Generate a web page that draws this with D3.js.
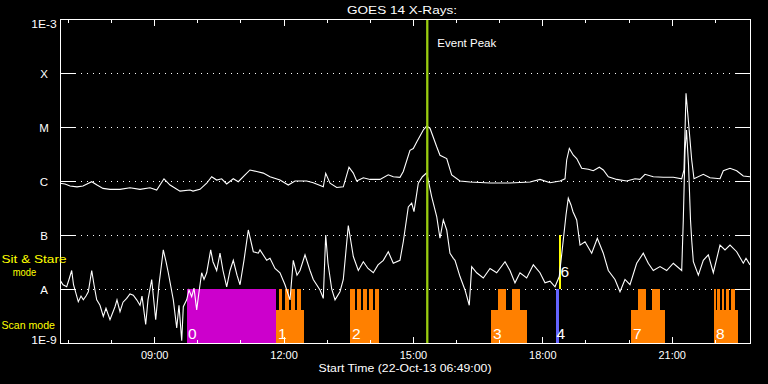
<!DOCTYPE html>
<html>
<head>
<meta charset="utf-8">
<title>GOES 14 X-Rays</title>
<script src="https://d3js.org/d3.v7.min.js"></script>
<style>
body { margin: 0; background: #000; }
svg { display: block; background: #000; }
text { font-family: "Liberation Sans", Arial, sans-serif; font-size: 11.5px; fill: #fff; }
</style>
</head>
<body>
<svg></svg>
<script>

    // Time axis: hours of day, plot starts 22-Oct-13 06:49
    var startHour = 6 + 49 / 60;
    var endHour = 22 + 49 / 60;
    var peakHour = 15 + 20 / 60;

    var levelValues = [1e-9, 1e-8, 1e-7, 1e-6, 1e-5, 1e-4, 1e-3];
    var levelLabels = ["1E-9", "A", "B", "C", "M", "X", "1E-3"];
    var gridLevels = [1e-8, 1e-7, 1e-6, 1e-5, 1e-4];
    var majorHours = [9, 12, 15, 18, 21];
    var minorHours = [7, 8, 10, 11, 13, 14, 16, 17, 19, 20, 22];

    // GOES long channel (1-8 A)
    var longTime = [6.817, 6.933, 7.049, 7.211, 7.350, 7.552, 7.675, 7.814, 7.976, 8.208,
        8.440, 8.672, 8.904, 9.059, 9.228, 9.368, 9.599, 9.831, 9.901, 10.063,
        10.218, 10.334, 10.450, 10.566, 10.682, 10.835, 10.951, 11.107, 11.222, 11.378,
        11.531, 11.686, 11.918, 12.110, 12.266, 12.537, 12.690, 12.922, 12.978, 13.078,
        13.233, 13.386, 13.518, 13.618, 13.697, 13.850, 14.005, 14.237, 14.429, 14.545,
        14.700, 14.777, 14.932, 15.009, 15.088, 15.241, 15.320, 15.396, 15.552, 15.628,
        15.784, 15.899, 16.092, 16.324, 16.788, 17.251, 17.715, 17.947, 18.179, 18.411,
        18.527, 18.566, 18.627, 18.720, 18.798, 18.914, 19.067, 19.183, 19.322, 19.415,
        19.531, 19.726, 19.957, 20.150, 20.266, 20.382, 20.574, 20.806, 21.038, 21.233,
        21.286, 21.333, 21.386, 21.465, 21.518, 21.734, 21.889, 22.121, 22.198, 22.353,
        22.508, 22.661, 22.817];
    var longFlux = [9.1e-7, 8.8e-7, 8.1e-7, 7.8e-7, 8.1e-7, 9.7e-7, 8.4e-7, 7.3e-7, 7.0e-7, 7.0e-7,
        7.5e-7, 7.0e-7, 7.5e-7, 6.8e-7, 1.1e-6, 8.4e-7, 6.5e-7, 6.8e-7, 6.5e-7, 7.0e-7,
        9.1e-7, 1.2e-6, 1.04e-6, 1.1e-6, 8.8e-7, 1.1e-6, 9.7e-7, 1.3e-6, 1.6e-6, 1.5e-6,
        1.4e-6, 1.2e-6, 1.04e-6, 8.4e-7, 1.0e-6, 1.0e-6, 9.3e-7, 7.8e-7, 1.39e-6, 9.1e-7,
        7.6e-7, 7.8e-7, 1.8e-6, 1.4e-6, 1.0e-6, 1.15e-6, 1.07e-6, 1.07e-6, 1.3e-6, 1.2e-6,
        1.17e-6, 1.5e-6, 3.7e-6, 4.0e-6, 5.3e-6, 8.8e-6, 1.04e-5, 9.5e-6, 4.3e-6, 3.0e-6,
        2.6e-6, 1.3e-6, 1.0e-6, 9.6e-7, 9.2e-7, 9.2e-7, 9.6e-7, 1.07e-6, 9.3e-7, 1.0e-6,
        1.1e-6, 2.45e-6, 4.0e-6, 3.0e-6, 2.6e-6, 1.72e-6, 1.65e-6, 1.55e-6, 1.8e-6, 1.6e-6,
        1.2e-6, 1.07e-6, 1.0e-6, 1.1e-6, 1.07e-6, 1.33e-6, 1.2e-6, 1.17e-6, 1.17e-6, 1.1e-6,
        1.6e-6, 4.2e-5, 1.35e-5, 2.45e-6, 1.1e-6, 1.33e-6, 1.15e-6, 1.1e-6, 1.55e-6, 1.72e-6,
        1.55e-6, 1.24e-6, 1.2e-6];

    // GOES short channel (0.5-4 A)
    var shortTime = [6.833, 6.886, 6.972, 7.025, 7.088, 7.130, 7.164, 7.241, 7.304, 7.357,
        7.420, 7.473, 7.552, 7.605, 7.668, 7.744, 7.821, 7.883, 7.976, 8.092,
        8.138, 8.208, 8.278, 8.363, 8.440, 8.516, 8.595, 8.672, 8.718, 8.804,
        8.857, 8.943, 9.036, 9.112, 9.212, 9.275, 9.328, 9.444, 9.523, 9.576,
        9.639, 9.676, 9.754, 9.808, 9.870, 9.924, 9.986, 10.040, 10.102, 10.156,
        10.218, 10.311, 10.364, 10.450, 10.527, 10.596, 10.682, 10.759, 10.835, 10.921,
        10.991, 11.083, 11.183, 11.299, 11.415, 11.454, 11.610, 11.686, 11.802, 11.918,
        12.034, 12.150, 12.226, 12.312, 12.382, 12.498, 12.614, 12.690, 12.846, 12.922,
        12.978, 13.031, 13.117, 13.194, 13.309, 13.386, 13.502, 13.618, 13.734, 13.850,
        13.959, 14.082, 14.191, 14.314, 14.429, 14.545, 14.700, 14.777, 14.893, 14.972,
        15.025, 15.125, 15.220, 15.320, 15.436, 15.552, 15.628, 15.705, 15.784, 15.860,
        15.937, 15.976, 16.092, 16.208, 16.307, 16.363, 16.479, 16.632, 16.788, 16.943,
        17.136, 17.251, 17.367, 17.483, 17.638, 17.792, 17.947, 18.063, 18.179, 18.295,
        18.394, 18.487, 18.550, 18.603, 18.666, 18.712, 18.798, 18.875, 18.991, 19.146,
        19.276, 19.415, 19.531, 19.686, 19.802, 19.918, 20.034, 20.189, 20.342, 20.458,
        20.574, 20.730, 20.885, 21.038, 21.233, 21.270, 21.310, 21.344, 21.391, 21.437,
        21.465, 21.503, 21.619, 21.734, 21.850, 21.966, 22.121, 22.237, 22.353, 22.508,
        22.661, 22.724, 22.817];
    var shortFlux = [1.4e-8, 1.2e-8, 1.1e-8, 1.5e-8, 2.2e-8, 1.2e-8, 9.6e-9, 5.8e-9, 7.4e-9, 6.3e-9,
        7.4e-9, 8.9e-9, 2.2e-8, 1.2e-8, 6.3e-9, 5.0e-9, 3.1e-9, 4.4e-9, 2.7e-9, 4.7e-9,
        6.3e-9, 3.8e-9, 5.7e-9, 6.7e-9, 8.1e-9, 7.7e-9, 6.3e-9, 5.0e-9, 7.4e-9, 2.2e-9,
        6.3e-9, 1.5e-8, 2.7e-9, 1.2e-8, 5.3e-8, 3.2e-8, 2.0e-8, 6.3e-9, 1.9e-9, 5.0e-9,
        1.1e-9, 4.7e-9, 6.3e-9, 9.6e-9, 7.2e-9, 1.04e-8, 4.1e-9, 8.8e-9, 2.0e-8, 1.5e-8,
        2.0e-8, 5.3e-8, 3.2e-8, 2.2e-8, 4.6e-8, 2.2e-8, 1.1e-8, 2.2e-8, 3.4e-8, 1.8e-8,
        1.2e-8, 3.4e-8, 1.24e-7, 4.9e-8, 4.6e-8, 5.3e-8, 3.4e-8, 3.7e-8, 2.4e-8, 2.0e-8,
        1.2e-8, 6.3e-9, 3.4e-8, 1.8e-8, 2.2e-8, 4.3e-8, 2.2e-8, 1.5e-8, 9.6e-9, 6.7e-9,
        1.0e-7, 3.0e-8, 1.0e-8, 6.3e-9, 8.9e-9, 1.5e-8, 1.5e-7, 4.0e-8, 2.2e-8, 3.2e-8,
        2.4e-8, 2.0e-8, 2.8e-8, 3.4e-8, 4.9e-8, 3.0e-8, 3.4e-8, 7.5e-8, 3.3e-7, 3.9e-7,
        2.7e-7, 9.1e-7, 1.2e-6, 1.42e-6, 5.1e-7, 2.2e-7, 8.7e-8, 1.9e-7, 1.24e-7, 4.6e-8,
        3.7e-8, 3.4e-8, 1.7e-8, 9.6e-9, 5.0e-9, 2.6e-8, 2.0e-8, 1.6e-8, 2.4e-8, 2.0e-8,
        3.2e-8, 2.2e-8, 1.3e-8, 2.0e-8, 1.6e-8, 2.8e-8, 2.0e-8, 1.3e-8, 1.4e-8, 1.1e-8,
        1.7e-8, 8.1e-8, 2.35e-7, 4.8e-7, 3.6e-7, 2.7e-7, 1.9e-7, 6.5e-8, 7.5e-8, 4.6e-8,
        8.7e-8, 4.6e-8, 2.2e-8, 1.5e-8, 8.9e-9, 1.5e-8, 1.2e-8, 3.0e-8, 4.6e-8, 3.0e-8,
        2.2e-8, 2.6e-8, 2.2e-8, 3.0e-8, 2.2e-8, 1.9e-7, 3.7e-6, 8.8e-6, 2.0e-6, 1.9e-7,
        8.0e-8, 3.2e-8, 1.8e-8, 3.4e-8, 4.3e-8, 2.0e-8, 6.5e-8, 5.3e-8, 6.5e-8, 4.9e-8,
        3.0e-8, 3.7e-8, 2.8e-8];

    // Observation blocks (hours of day)
    var wideLabel = "0", wideStart = 9.762, wideEnd = 11.825;
    var scanLabels = ["1", "2", "3", "7", "8"];
    var scanStart = [11.825, 13.541, 16.811, 20.057, 21.982];
    var scanEnd = [12.475, 14.214, 17.639, 20.846, 22.539];
    var scanSteps = [
        [[11.888, 11.972], [12.034, 12.120], [12.180, 12.259], [12.320, 12.398]],
        [[13.541, 13.650], [13.711, 13.790], [13.850, 13.929], [13.989, 14.068], [14.128, 14.214]],
        [[16.980, 17.159], [17.291, 17.483]],
        [[20.213, 20.398], [20.544, 20.730]],
        [[21.982, 22.028], [22.052, 22.121], [22.161, 22.214], [22.260, 22.322], [22.376, 22.469]]
    ];
    var shortScanLabel = "4", shortScanStart = 18.318, shortScanEnd = 18.388;
    var stareLabel = "6", stareStart = 18.388, stareEnd = 18.434;

    var width = 768, height = 384;
    var plotL = 60, plotR = 750, plotT = 19, plotB = 343;

    var svg = d3.select('svg').attr('width', width).attr('height', height);

    var x = d3.scaleLinear().domain([startHour, endHour]).range([plotL, plotR]);
    var y = d3.scaleLog().domain([1e-9, 1e-3]).range([plotB, plotT]);

    function hourLabel(h) { return d3.format("02d")(h) + ":00"; }

    // dotted grid at flare levels
    svg.append('g').selectAll('line')
        .data(gridLevels)
        .enter().append('line')
        .attr('x1', plotL + 15).attr('x2', plotR - 15)
        .attr('y1', function (d) { return Math.round(y(d)) + 0.5; })
        .attr('y2', function (d) { return Math.round(y(d)) + 0.5; })
        .style('stroke', '#fff')
        .style('stroke-dasharray', '1,5');

    // observation blocks
    var blocks = svg.append('g').attr('shape-rendering', 'crispEdges');
    var yA = y(1e-8), yB = y(1e-7), yBase = y(1e-9);
    var stepH = 21;

    blocks.append('rect')
        .attr('x', x(wideStart)).attr('width', x(wideEnd) - x(wideStart))
        .attr('y', yA).attr('height', yBase - yA)
        .style('fill', '#cc00cc');

    blocks.selectAll('.scan')
        .data(scanStart)
        .enter().append('rect').attr('class', 'scan')
        .attr('x', function (d) { return x(d); })
        .attr('width', function (d, i) { return x(scanEnd[i]) - x(d); })
        .attr('y', yA + stepH).attr('height', yBase - yA - stepH)
        .style('fill', '#ff8000');

    scanSteps.forEach(function (steps) {
        blocks.append('g').selectAll('rect')
            .data(steps)
            .enter().append('rect')
            .attr('x', function (d) { return x(d[0]); })
            .attr('width', function (d) { return x(d[1]) - x(d[0]); })
            .attr('y', yA).attr('height', stepH + 1)
            .style('fill', '#ff8000');
    });

    blocks.append('rect')
        .attr('x', x(shortScanStart)).attr('width', x(shortScanEnd) - x(shortScanStart))
        .attr('y', yA).attr('height', yBase - yA)
        .style('fill', '#6464ff');

    blocks.append('rect')
        .attr('x', x(stareStart)).attr('width', x(stareEnd) - x(stareStart))
        .attr('y', yB).attr('height', yA - yB)
        .style('fill', '#ffff00');

    // light curves
    var line = d3.line()
        .x(function (d) { return x(d[0]); })
        .y(function (d) { return y(d[1]); });

    svg.append('clipPath').attr('id', 'plot')
        .append('rect').attr('x', plotL).attr('y', plotT).attr('width', plotR - plotL).attr('height', plotB - plotT);

    [[longTime, longFlux], [shortTime, shortFlux]].forEach(function (s) {
        svg.append('path')
            .datum(d3.zip(s[0], s[1]))
            .attr('clip-path', 'url(#plot)')
            .attr('d', line)
            .style('fill', 'none')
            .style('stroke', '#fff')
            .style('stroke-width', 1.1);
    });

    // event peak marker
    svg.append('line')
        .attr('x1', x(peakHour)).attr('x2', x(peakHour))
        .attr('y1', plotT).attr('y2', plotB)
        .style('stroke', '#9acd10')
        .style('stroke-width', 2.3);

    svg.append('text').attr('x', x(peakHour) + 10).attr('y', 46.5)
        .attr('textLength', 59).attr('lengthAdjust', 'spacingAndGlyphs')
        .text('Event Peak');

    // block numbers
    var numbers = [[wideLabel, wideStart, 338.5, 1]]
        .concat(scanLabels.map(function (l, i) { return [l, scanStart[i], 338.5, 2]; }))
        .concat([[shortScanLabel, shortScanStart, 338.5, 0.5], [stareLabel, stareStart, 277, 1.5]]);

    svg.append('g').selectAll('text')
        .data(numbers)
        .enter().append('text')
        .attr('x', function (d) { return x(d[1]) + d[3]; })
        .attr('y', function (d) { return d[2]; })
        .style('font-size', '15.5px')
        .text(function (d) { return d[0]; });

    // axes
    var axes = svg.append('g').attr('shape-rendering', 'crispEdges');

    axes.append('g').attr('transform', 'translate(0,' + plotB + ')')
        .call(d3.axisBottom(x).tickValues(majorHours).tickSizeInner(-6.5).tickSizeOuter(0)
            .tickPadding(7.5).tickFormat(hourLabel));
    axes.append('g').attr('transform', 'translate(0,' + plotB + ')')
        .call(d3.axisBottom(x).tickValues(minorHours).tickSizeInner(-3.5).tickSizeOuter(0).tickFormat(''));
    axes.append('g').attr('transform', 'translate(0,' + plotT + ')')
        .call(d3.axisTop(x).tickValues(majorHours).tickSizeInner(-6.5).tickSizeOuter(0).tickFormat(''));
    axes.append('g').attr('transform', 'translate(0,' + plotT + ')')
        .call(d3.axisTop(x).tickValues(minorHours).tickSizeInner(-3.5).tickSizeOuter(0).tickFormat(''));

    axes.append('g').attr('class', 'yaxis').attr('transform', 'translate(' + plotL + ',0)')
        .call(d3.axisLeft(y).tickValues(levelValues).tickSizeInner(-15).tickSizeOuter(0)
            .tickFormat(function (d, i) { return levelLabels[i]; }));
    axes.append('g').attr('transform', 'translate(' + plotR + ',0)')
        .call(d3.axisRight(y).tickValues(levelValues).tickSizeInner(-15).tickSizeOuter(0).tickFormat(''));

    axes.selectAll('.domain, .tick line').style('stroke', '#fff');
    axes.selectAll('.tick text')
        .style('fill', '#fff')
        .style('font-family', '"Liberation Sans", Arial, sans-serif')
        .style('font-size', '11.5px');
    axes.selectAll('.yaxis .tick text')
        .attr('x', -16)
        .attr('text-anchor', 'middle')
        .attr('dy', function (d, i) { return i === 0 ? '0' : (i === levelValues.length - 1 ? '0.72em' : '0.36em'); });
    axes.selectAll('.yaxis .tick text')
        .filter(function (d, i) { return levelLabels[i].length > 1; })
        .attr('textLength', 25.5).attr('lengthAdjust', 'spacingAndGlyphs');
    axes.selectAll('.tick text')
        .filter(function () { return /:00$/.test(this.textContent); })
        .attr('textLength', 27.5).attr('lengthAdjust', 'spacingAndGlyphs');

    // titles
    svg.append('text').attr('x', 402).attr('y', 13.5).attr('text-anchor', 'middle')
        .attr('textLength', 110).attr('lengthAdjust', 'spacingAndGlyphs')
        .text('GOES 14 X-Rays:');
    svg.append('text').attr('x', 405).attr('y', 371.5).attr('text-anchor', 'middle')
        .attr('textLength', 173).attr('lengthAdjust', 'spacingAndGlyphs')
        .text('Start Time (22-Oct-13 06:49:00)');

    var modeText = svg.append('g').style('font-size', '12px');
    modeText.append('text').attr('x', 1.5).attr('y', 262.5)
        .attr('textLength', 65).attr('lengthAdjust', 'spacingAndGlyphs')
        .style('fill', '#ffff00').text('Sit & Stare');
    modeText.append('text').attr('x', 24.5).attr('y', 275.5).attr('text-anchor', 'middle')
        .attr('textLength', 23.5).attr('lengthAdjust', 'spacingAndGlyphs')
        .style('fill', '#ffff00').text('mode');
    modeText.append('text').attr('x', 1.5).attr('y', 328.5)
        .attr('textLength', 53.5).attr('lengthAdjust', 'spacingAndGlyphs')
        .style('fill', '#ffff00').text('Scan mode');

</script>
</body>
</html>
